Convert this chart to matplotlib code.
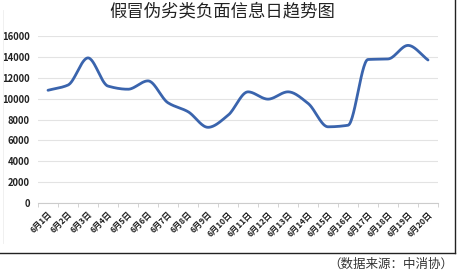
import numpy as np
import matplotlib
matplotlib.use('Agg')
import matplotlib.pyplot as plt
from matplotlib.lines import Line2D

plt.rcParams['font.family'] = ['Noto Sans CJK SC', 'DejaVu Sans']

# 数据
日期 = ['6月%d日' % d for d in range(1, 21)]
信息量 = [10800, 11300, 13900, 11200, 10900, 11700, 9600, 8750, 7250, 8400,
       10650, 9950, 10650, 9550, 7300, 7450, 13750, 13800, 15100, 13700]
y刻度 = [0, 2000, 4000, 6000, 8000, 10000, 12000, 14000, 16000]


def 平滑(x, y, n=30):
    # 单调三次插值 (Fritsch-Carlson), 模拟平滑线
    x = np.asarray(x, float)
    y = np.asarray(y, float)
    h = np.diff(x)
    d = np.diff(y) / h
    m = np.zeros_like(y)
    m[0], m[-1] = d[0], d[-1]
    for i in range(1, len(y) - 1):
        if d[i - 1] * d[i] > 0:
            m[i] = 2 / (1 / d[i - 1] + 1 / d[i])
    xs, ys = [], []
    t = np.linspace(0, 1, n)
    for i in range(len(y) - 1):
        h00 = 2 * t ** 3 - 3 * t ** 2 + 1
        h10 = t ** 3 - 2 * t ** 2 + t
        h01 = -2 * t ** 3 + 3 * t ** 2
        h11 = t ** 3 - t ** 2
        xs.extend(x[i] + t * h[i])
        ys.extend(h00 * y[i] + h10 * h[i] * m[i] + h01 * y[i + 1] + h11 * h[i] * m[i + 1])
    return np.array(xs), np.array(ys)


fig = plt.figure(figsize=(4.61, 2.74), dpi=100)
ax = fig.add_axes([38 / 461, 1 - 203 / 274, 400 / 461, 167 / 274])

x = np.arange(len(信息量))
sx, sy = 平滑(x, 信息量)
ax.plot(sx, sy, color='#3a64ad', lw=2.0, solid_capstyle='round', zorder=3)

ax.set_xlim(-0.5, len(信息量) - 0.5)
ax.set_ylim(0, 16000)
ax.set_yticks(y刻度)
ax.set_yticklabels([str(v) for v in y刻度], fontsize=6.8, fontweight='bold', color='#222222')
ax.set_xticks(x)
ax.set_xticklabels(日期, rotation=45, ha='right', rotation_mode='anchor',
                   fontsize=6, fontweight='bold', color='#222222')
ax.set_xticks(np.arange(-0.5, len(信息量)), minor=True)
ax.tick_params(axis='x', which='major', length=0, pad=5)
ax.tick_params(axis='x', which='minor', length=3, color='#cccccc')
ax.tick_params(axis='y', length=0, pad=6)
ax.grid(axis='y', color='#e3e3e3', lw=0.8)
ax.set_axisbelow(True)
for s in ['top', 'right', 'left']:
    ax.spines[s].set_visible(False)
ax.spines['bottom'].set_color('#cccccc')

fig.text(222 / 461, 1 - 11 / 274, '假冒伪劣类负面信息日趋势图', ha='center', va='center',
         fontsize=12.5, fontweight='medium', color='#222222')

# 外框
fig.add_artist(Line2D([455 / 461, 455 / 461], [1 - 252.5 / 274, 1], color='#222222', lw=1.0))
fig.add_artist(Line2D([0, 455 / 461], [1 - 252.5 / 274, 1 - 252.5 / 274], color='#222222', lw=1.0))
fig.add_artist(Line2D([3 / 461, 3 / 461], [1 - 243 / 274, 1 - 10 / 274], color='#eeeeee', lw=0.6))

fig.text(453 / 461, 1 - 264 / 274, '（数据来源：中消协）', ha='right', va='center',
         fontsize=9, color='#333333', family=['Noto Sans CJK SC', 'DejaVu Sans'])

fig.savefig('out.png', dpi=100)
